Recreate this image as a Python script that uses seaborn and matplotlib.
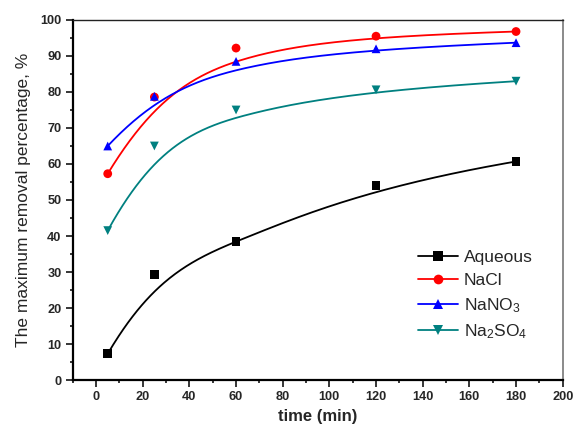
import numpy as np
import pandas as pd
import matplotlib
matplotlib.use("Agg")
import matplotlib.pyplot as plt
from matplotlib.lines import Line2D
from matplotlib.ticker import MultipleLocator
import seaborn as sns

# ---- data ----
time_min = [5, 25, 60, 120, 180]
aqueous = [7.3, 29.3, 38.5, 54.0, 60.7]
nacl = [57.3, 78.6, 92.2, 95.5, 96.8]
nano3 = [65.0, 78.8, 88.5, 92.0, 93.7]
na2so4 = [41.5, 65.0, 75.0, 80.6, 83.0]

series_names = ["Aqueous", "NaCl", "NaNO$_3$", "Na$_2$SO$_4$"]
series_values = [aqueous, nacl, nano3, na2so4]
colors = ["#000000", "#FF0000", "#0000FF", "#008080"]
markers = ["s", "o", "^", "v"]

x_ticks = list(range(0, 201, 20))
y_ticks = list(range(0, 101, 10))

sns.set_style("ticks")
plt.rcParams["font.family"] = ["Liberation Sans", "DejaVu Sans"]
plt.rcParams["mathtext.fontset"] = "custom"
plt.rcParams["mathtext.rm"] = "Liberation Sans"
plt.rcParams["mathtext.default"] = "regular"


def bspline_curve(xp, yp, degree=3, num=300):
    """Clamped B-spline using the data points as control points
    (the 'B-spline' line connection of the original chart)."""
    P = np.column_stack([np.asarray(xp, float), np.asarray(yp, float)])
    n = len(P)
    k = min(degree, n - 1)
    inner = np.linspace(0, 1, n - k + 1)
    knots = np.concatenate([np.zeros(k), inner, np.ones(k)])
    t = np.linspace(0, 1, num)
    t[-1] = 1 - 1e-12

    # Cox-de Boor recursion
    N = np.zeros((num, len(knots) - 1))
    for i in range(len(knots) - 1):
        N[:, i] = (t >= knots[i]) & (t < knots[i + 1])
    for d in range(1, k + 1):
        Nn = np.zeros((num, len(knots) - 1 - d))
        for i in range(len(knots) - 1 - d):
            a = knots[i + d] - knots[i]
            b = knots[i + d + 1] - knots[i + 1]
            term = 0
            if a > 0:
                term = term + (t - knots[i]) / a * N[:, i]
            if b > 0:
                term = term + (knots[i + d + 1] - t) / b * N[:, i + 1]
            Nn[:, i] = term
        N = Nn
    C = N @ P
    return C[:, 0], C[:, 1]


rows = []
for name, vals in zip(series_names, series_values):
    for t, v in zip(time_min, vals):
        rows.append({"time": t, "value": v, "series": name})
df = pd.DataFrame(rows)

curve_rows = []
for name, vals in zip(series_names, series_values):
    cx, cy = bspline_curve(time_min, vals)
    for j, (xv, yv) in enumerate(zip(cx, cy)):
        curve_rows.append({"idx": j, "time": xv, "value": yv, "series": name})
curve_df = pd.DataFrame(curve_rows)

fig = plt.figure(figsize=(5.74, 4.29), dpi=100)
ax = fig.add_axes([0.1267, 0.1142, 0.8536, 0.8392])

palette = dict(zip(series_names, colors))
marker_map = dict(zip(series_names, markers))

sns.lineplot(data=curve_df, x="time", y="value", hue="series", palette=palette,
             hue_order=series_names, linewidth=1.3, legend=False, ax=ax,
             sort=False, estimator=None, units="series")
sns.scatterplot(data=df, x="time", y="value", hue="series", style="series",
                palette=palette, markers=marker_map, hue_order=series_names,
                style_order=series_names, s=40, linewidth=0, legend=False,
                ax=ax, zorder=3)

ax.set_xlim(-10, 200)
ax.set_ylim(0, 100)
ax.set_xticks(x_ticks)
ax.set_yticks(y_ticks)
ax.xaxis.set_minor_locator(MultipleLocator(10))
ax.yaxis.set_minor_locator(MultipleLocator(5))
ax.tick_params(which="major", direction="out", length=5, width=1.3,
               top=False, right=False)
ax.tick_params(which="minor", direction="out", length=2.5, width=1.3,
               top=False, right=False)
for lab in ax.get_xticklabels() + ax.get_yticklabels():
    lab.set_fontweight("bold")
    lab.set_fontsize(9.2)
ax.tick_params(axis="both", pad=3)

ax.set_xlabel("time (min)", fontsize=12, fontweight="bold", labelpad=4)
ax.set_ylabel("The maximum removal percentage, %", fontsize=12.5, labelpad=7)

for side in ["left", "bottom"]:
    ax.spines[side].set_linewidth(1.6)
    ax.spines[side].set_color("black")
ax.spines["top"].set_linewidth(1.0)
ax.spines["top"].set_color("#222222")
ax.spines["right"].set_linewidth(1.2)
ax.spines["right"].set_color("#777777")

handles = [Line2D([0], [0], color=c, marker=m, markersize=7, linewidth=1.3,
                  markeredgewidth=0)
           for c, m in zip(colors, markers)]
fig.legend(handles, series_names, loc="upper left",
           bbox_to_anchor=(418 / 574, 1 - 250 / 429), frameon=False,
           fontsize=12.5, handlelength=2.3, handletextpad=0.35,
           labelspacing=0.45, borderpad=0, borderaxespad=0)

fig.savefig("out.png", dpi=100)
